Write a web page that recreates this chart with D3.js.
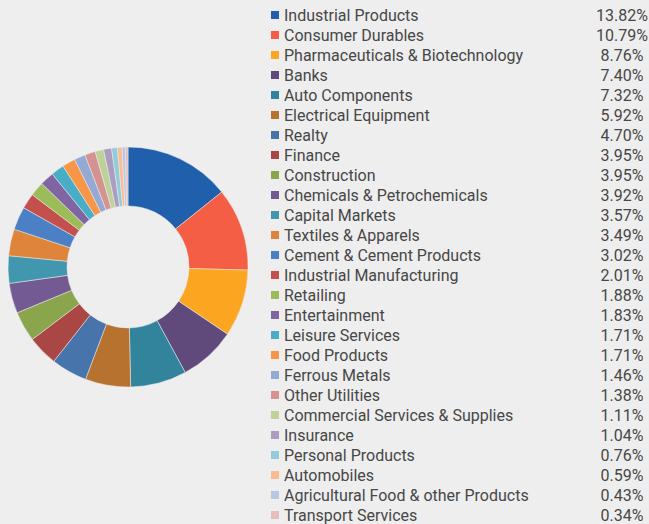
<!DOCTYPE html>
<html><head><meta charset="utf-8">
<script src="https://cdn.jsdelivr.net/npm/d3@7"></script>
<style>
html,body{margin:0;padding:0;background:#eeeeee;}
svg{display:block;}
</style></head>
<body>
<svg id="chart" width="649" height="524"></svg>
<script>
const categories = ["Industrial Products","Consumer Durables","Pharmaceuticals & Biotechnology","Banks","Auto Components","Electrical Equipment","Realty","Finance","Construction","Chemicals & Petrochemicals","Capital Markets","Textiles & Apparels","Cement & Cement Products","Industrial Manufacturing","Retailing","Entertainment","Leisure Services","Food Products","Ferrous Metals","Other Utilities","Commercial Services & Supplies","Insurance","Personal Products","Automobiles","Agricultural Food & other Products","Transport Services"];
const values = [13.82,10.79,8.76,7.40,7.32,5.92,4.70,3.95,3.95,3.92,3.57,3.49,3.02,2.01,1.88,1.83,1.71,1.71,1.46,1.38,1.11,1.04,0.76,0.59,0.43,0.34];
const colors = ["#1f5fab","#f45e44","#fca521","#604a7b","#31849b","#b8722f","#4674ab","#aa4643","#8aa54c","#735a92","#4198ae","#de843b","#4b81c4","#c4504e","#9cbb59","#8165a2","#4aadc7","#f79646","#94aad5","#d49391","#bdd199","#aa9dc0","#92ccdb","#fbbc94","#b9c7e3","#e6bebc"];

const svg = d3.select("#chart");
const cx = 128, cy = 267, rOuter = 120, rInner = 61;

const data = categories.map((c,i)=>({name:c, value:values[i], color:colors[i]}));
const pie = d3.pie().value(d=>d.value).sort(null);
const arc = d3.arc().innerRadius(rInner).outerRadius(rOuter);

svg.append("g").attr("transform",`translate(${cx},${cy})`)
  .selectAll("path").data(pie(data)).join("path")
  .attr("d",arc).attr("fill",d=>d.data.color)
  .attr("stroke","#eeeeee").attr("stroke-width",0.5);

const y = d3.scalePoint().domain(categories).range([15,515]);
const lg = svg.append("g");
const row = lg.selectAll("g").data(data).join("g")
  .attr("transform",d=>`translate(0,${y(d.name)})`);
row.append("rect").attr("x",271).attr("y",-4).attr("width",8).attr("height",8).attr("fill",d=>d.color);
row.append("text").attr("x",284).attr("y",0).attr("dy","0.36em")
  .attr("font-family","Roboto, sans-serif").attr("font-size",16).attr("fill","#474747")
  .text(d=>d.name);
row.append("text").attr("x",622).attr("y",0).attr("dy","0.36em").attr("text-anchor","middle")
  .attr("font-family","Roboto, sans-serif").attr("font-size",16).attr("fill","#474747")
  .text(d=>d.value.toFixed(2)+"%");
</script>
</body></html>
